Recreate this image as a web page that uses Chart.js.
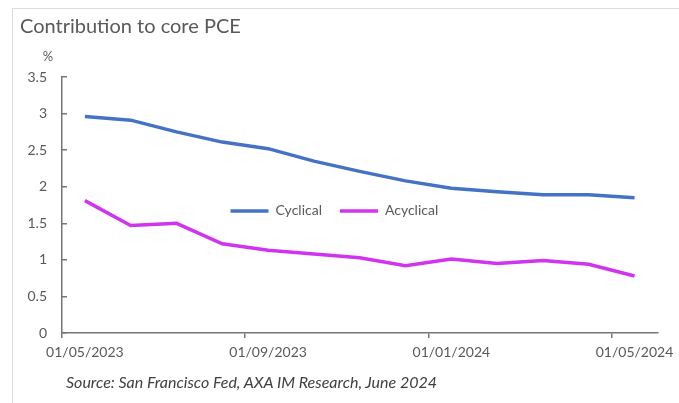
<!DOCTYPE html>
<html>
<head>
<meta charset="utf-8">
<script src="https://cdn.jsdelivr.net/npm/chart.js@4"></script>
<style>
    html, body { margin: 0; padding: 0; background: #fff; overflow: hidden; }
    #frame {
        position: absolute; left: 12px; top: 8px; width: 667px; height: 395px;
        border-top: 1px solid #dcdcdc; border-left: 1px solid #dcdcdc;
    }
    #chart-box { position: absolute; left: 0; top: 0; width: 667px; height: 395px; }
    #source {
        position: absolute; left: 66px; top: 372px;
        font-family: Lato, sans-serif; font-style: italic; font-size: 16px; color: #404040;
        white-space: nowrap;
    }
</style>
</head>
<body>
<div id="frame">
    <div id="chart-box"><canvas id="pce-chart" width="667" height="395"></canvas></div>
</div>
<div id="source">Source: San Francisco Fed, AXA IM Research, June 2024</div>
<script>
// 月份類別（每月一點）
const months = [
    '01/05/2023', '01/06/2023', '01/07/2023', '01/08/2023', '01/09/2023', '01/10/2023',
    '01/11/2023', '01/12/2023', '01/01/2024', '01/02/2024', '01/03/2024', '01/04/2024', '01/05/2024'
];
const cyclical = [2.96, 2.91, 2.75, 2.61, 2.52, 2.35, 2.21, 2.08, 1.98, 1.93, 1.89, 1.89, 1.85];
const acyclical = [1.81, 1.47, 1.50, 1.22, 1.13, 1.08, 1.03, 0.92, 1.01, 0.95, 0.99, 0.94, 0.78];
const yTicks = [0, 0.5, 1, 1.5, 2, 2.5, 3, 3.5];

const textColor = '#595959';
const axisColor = '#767676';
const fontFamily = 'Lato, "Open Sans", sans-serif';
const legendPad = 18;
const legendFont = 14;
const xAxisSpace = 71;

// 圖例移到繪圖區中間（底部保留的空間由 x 軸高度抵扣）
const legendPlacer = {
    id: 'legendPlacer',
    afterLayout(chart) {
        const lg = chart.legend;
        const area = chart.chartArea;
        const w = lg.width, h = lg.height;
        lg.left = area.left + area.width * 0.283 - legendPad;
        lg.right = lg.left + w;
        lg.top = area.top + area.height * 0.523 - legendPad - 7;
        lg.bottom = lg.top + h;
    }
};

// y 軸上方的 % 單位
const unitLabel = {
    id: 'unitLabel',
    afterDraw(chart) {
        const y = chart.scales.y;
        const ctx = chart.ctx;
        ctx.save();
        ctx.font = '13px ' + fontFamily;
        ctx.fillStyle = textColor;
        ctx.textAlign = 'center';
        ctx.textBaseline = 'middle';
        ctx.fillText('%', y.right - 14, y.top - 20);
        ctx.restore();
    }
};

new Chart(document.getElementById('pce-chart'), {
    type: 'line',
    data: {
        labels: months,
        datasets: [{
            label: 'Cyclical',
            data: cyclical,
            borderColor: '#4472C4',
            backgroundColor: '#4472C4',
            borderWidth: 3.5,
            pointRadius: 0,
            tension: 0
        }, {
            label: 'Acyclical',
            data: acyclical,
            borderColor: '#D034EE',
            backgroundColor: '#D034EE',
            borderWidth: 3.5,
            pointRadius: 0,
            tension: 0
        }]
    },
    options: {
        responsive: false,
        animation: false,
        layout: { padding: { left: 7, right: 17, top: 4, bottom: 0 } },
        plugins: {
            title: {
                display: true,
                text: 'Contribution to core PCE',
                align: 'start',
                color: textColor,
                font: { family: fontFamily, size: 20, weight: 'normal' },
                padding: { top: 2, bottom: 38 }
            },
            legend: {
                position: 'bottom',
                align: 'start',
                labels: {
                    usePointStyle: true,
                    pointStyle: 'line',
                    pointStyleWidth: 38,
                    padding: legendPad,
                    color: textColor,
                    font: { family: fontFamily, size: legendFont }
                }
            },
            tooltip: { enabled: false }
        },
        scales: {
            x: {
                offset: true,
                grid: {
                    offset: true,
                    drawOnChartArea: false,
                    tickLength: 5,
                    tickColor: ctx => (ctx.index % 4 === 0 ? axisColor : 'transparent'),
                    lineWidth: 1.5
                },
                border: { color: axisColor, width: 1.5 },
                ticks: {
                    autoSkip: false,
                    maxRotation: 0,
                    padding: 6,
                    color: textColor,
                    font: { family: fontFamily, size: 14 },
                    callback: (val, i) => (i % 4 === 0 ? months[i] : '')
                },
                afterFit: scale => { scale.height = xAxisSpace - (legendPad + legendFont + 10); }
            },
            y: {
                min: 0,
                max: 3.5,
                afterBuildTicks: scale => { scale.ticks = yTicks.map(v => ({ value: v })); },
                grid: {
                    drawOnChartArea: false,
                    tickLength: -5,
                    tickColor: axisColor,
                    lineWidth: 1.5
                },
                border: { color: axisColor, width: 1.5 },
                ticks: {
                    padding: 20,
                    color: textColor,
                    font: { family: fontFamily, size: 14 },
                    callback: v => String(v)
                },
                afterFit: scale => { scale.width = 42; }
            }
        }
    },
    plugins: [legendPlacer, unitLabel]
});
</script>
</body>
</html>
